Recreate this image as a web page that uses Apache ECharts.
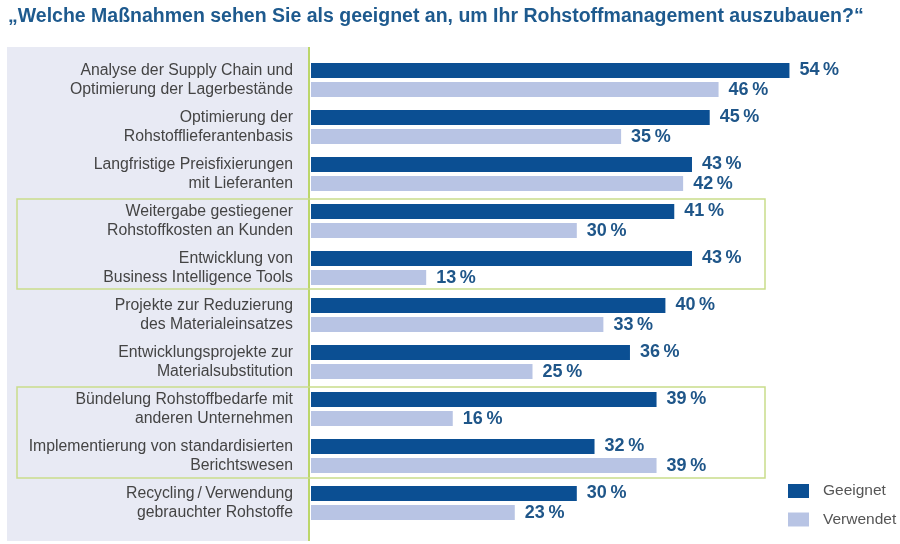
<!DOCTYPE html>
<html><head><meta charset="utf-8">
<script src="https://cdn.jsdelivr.net/npm/echarts@6/dist/echarts.min.js"></script>
<style>html,body{margin:0;padding:0;background:#fff}#c{width:900px;height:544px}</style>
</head><body><div id="c"></div>
<script>
const categories = [
  "Analyse der Supply Chain und\nOptimierung der Lagerbestände",
  "Optimierung der\nRohstofflieferantenbasis",
  "Langfristige Preisfixierungen\nmit Lieferanten",
  "Weitergabe gestiegener\nRohstoffkosten an Kunden",
  "Entwicklung von\nBusiness Intelligence Tools",
  "Projekte zur Reduzierung\ndes Materialeinsatzes",
  "Entwicklungsprojekte zur\nMaterialsubstitution",
  "Bündelung Rohstoffbedarfe mit\nanderen Unternehmen",
  "Implementierung von standardisierten\nBerichtswesen",
  "Recycling\u2009/\u2009Verwendung\ngebrauchter Rohstoffe"
];
const geeignet = [54, 45, 43, 41, 43, 40, 36, 39, 32, 30];
const verwendet = [46, 35, 42, 30, 13, 33, 25, 16, 39, 23];
const seriesNames = ["Geeignet", "Verwendet"];
const titleText = "„Welche Maßnahmen sehen Sie als geeignet an, um Ihr Rohstoffmanagement auszubauen?“";

const FONT = "'Liberation Sans', Arial, Helvetica, sans-serif";
const DARK = "#0b4f93";
const LIGHT = "#b8c4e4";
const LABEL = "#1f5689";
const GREEN = "#c9dd8a";

const chart = echarts.init(document.getElementById('c'), null, {renderer: 'canvas'});
const labelStyle = {
  show: true, position: 'right', distance: 10,
  formatter: p => p.value + '\u2009%',
  fontFamily: FONT, fontWeight: 'bold', fontSize: 18, color: LABEL, padding: [2, 0, 0, 0]
};
chart.setOption({
  backgroundColor: '#ffffff',
  animation: false,
  title: {
    text: titleText, left: 8, top: 7, padding: 0,
    textStyle: {fontFamily: FONT, fontWeight: 'bold', fontSize: 19.5, color: '#1e5a8e'}
  },
  graphic: [
    {type: 'rect', z: -10, shape: {x: 7, y: 47, width: 301, height: 494}, style: {fill: '#e8eaf4'}},
    {type: 'rect', z: -9, shape: {x: 308, y: 47, width: 2, height: 494}, style: {fill: '#bcd66a'}},
    {type: 'rect', z: -8, shape: {x: 17, y: 199, width: 748, height: 90}, style: {fill: 'none', stroke: GREEN, lineWidth: 1.5}},
    {type: 'rect', z: -8, shape: {x: 17, y: 387, width: 748, height: 91}, style: {fill: 'none', stroke: GREEN, lineWidth: 1.5}}
  ],
  legend: {
    orient: 'vertical', left: 788, top: 483, padding: 0,
    itemWidth: 21, itemHeight: 14, itemGap: 12.5,
    icon: 'rect',
    data: seriesNames,
    textStyle: {fontFamily: FONT, fontSize: 15.5, color: '#555', padding: [0, 0, 0, 9]}
  },
  grid: {left: 311, right: 6, top: 56.5, bottom: 17.5, containLabel: false},
  xAxis: {type: 'value', min: 0, max: 65.8, show: false},
  yAxis: {
    type: 'category', inverse: true, data: categories,
    axisLine: {show: false}, axisTick: {show: false},
    axisLabel: {
      fontFamily: FONT, fontSize: 15.8, color: '#444', lineHeight: 19,
      align: 'right', margin: 18
    }
  },
  series: [
    {name: seriesNames[0], type: 'bar', data: geeignet, barWidth: 15, barGap: '28%',
     itemStyle: {color: DARK}, label: labelStyle},
    {name: seriesNames[1], type: 'bar', data: verwendet, barWidth: 15,
     itemStyle: {color: LIGHT}, label: labelStyle}
  ]
});
</script></body></html>
